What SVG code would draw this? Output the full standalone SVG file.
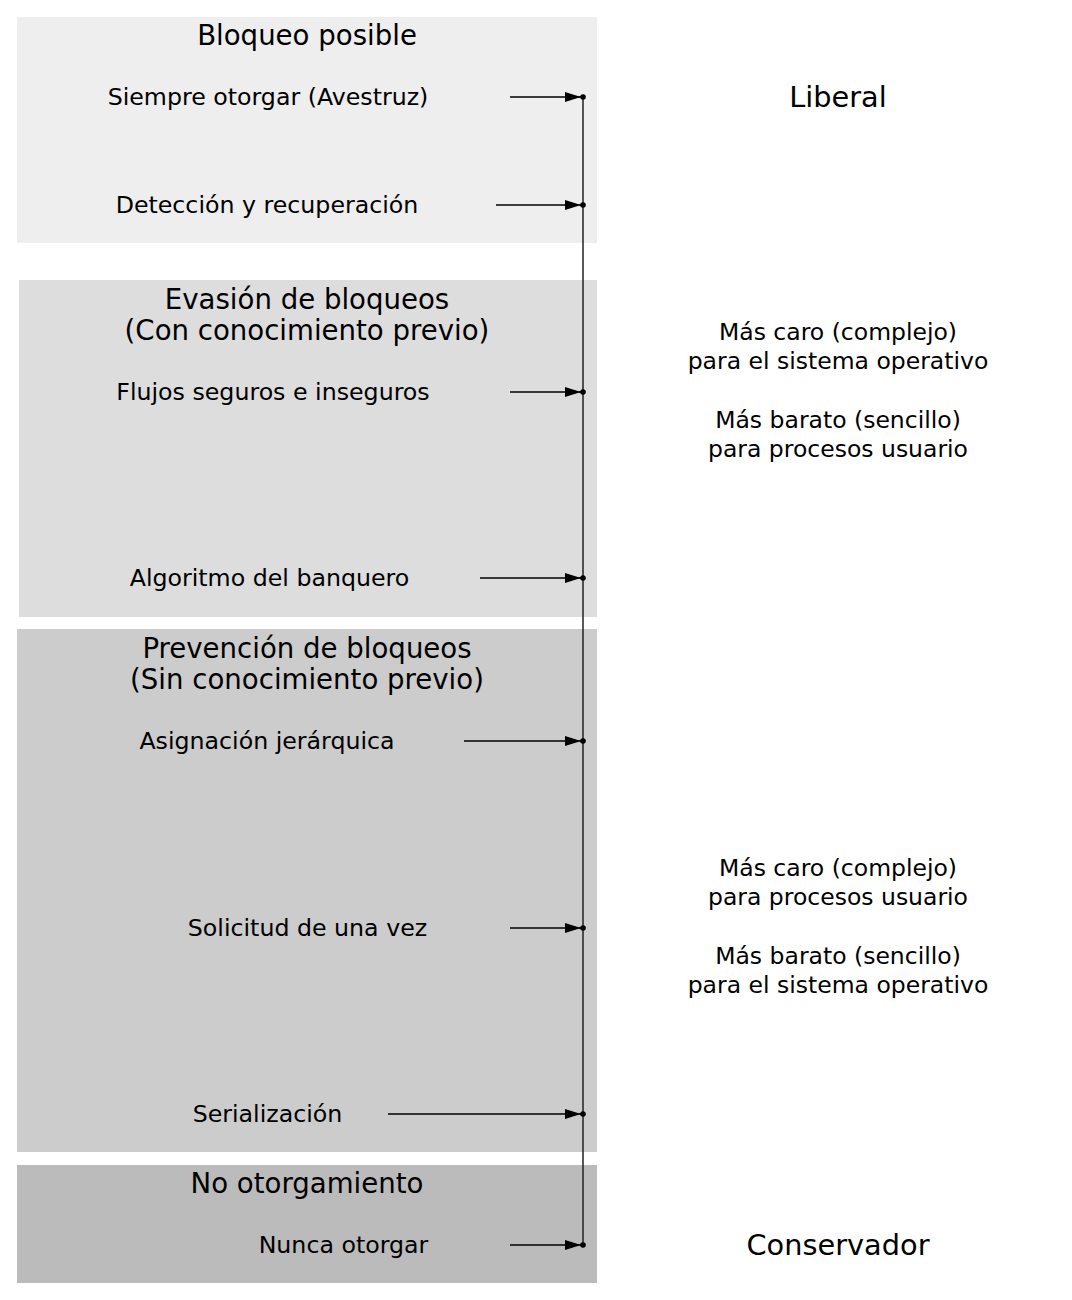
<svg xmlns="http://www.w3.org/2000/svg" width="1072" height="1300" viewBox="0 0 1072 1300">
<defs>
<style>
text{font-family:"DejaVu Sans","Liberation Sans",sans-serif;fill:#000}
.h{font-size:27.6px;text-anchor:middle}
.l{font-size:23.7px;text-anchor:middle}
.r{font-size:23.5px;text-anchor:middle}
.big{font-size:28.8px;text-anchor:middle}
.ar{stroke:#000;stroke-width:1.3;fill:none;marker-end:url(#ah)}
</style>
<marker id="ah" viewBox="0 0 16 10" refX="16" refY="5" markerWidth="16" markerHeight="10" markerUnits="userSpaceOnUse" orient="auto">
<path d="M0,0 L16,5 L0,10 Z" fill="#000"/>
</marker>
</defs>
<rect width="1072" height="1300" fill="#fff"/>
<g id="bloqueo-posible">
<rect x="17" y="17" width="580" height="226" fill="#eeeeee"/>
<text class="h" x="307" y="45">Bloqueo posible</text>
</g>
<g id="evasion">
<rect x="19" y="280" width="578" height="337" fill="#dddddd"/>
<text class="h" x="307" y="309">Evasión de bloqueos</text>
<text class="h" x="307" y="340">(Con conocimiento previo)</text>
</g>
<g id="prevencion">
<rect x="17" y="629" width="580" height="523" fill="#cccccc"/>
<text class="h" x="307" y="658">Prevención de bloqueos</text>
<text class="h" x="307" y="689">(Sin conocimiento previo)</text>
</g>
<g id="no-otorgamiento">
<rect x="17" y="1165" width="580" height="118" fill="#bbbbbb"/>
<text class="h" x="307" y="1193">No otorgamiento</text>
</g>
<g id="siempre"><text class="l" x="268" y="105">Siempre otorgar (Avestruz)</text></g>
<g id="deteccion"><text class="l" x="267" y="213">Detección y recuperación</text></g>
<g id="flujos"><text class="l" x="273" y="400">Flujos seguros e inseguros</text></g>
<g id="banquero"><text class="l" x="269.5" y="586">Algoritmo del banquero</text></g>
<g id="jerarquica"><text class="l" x="267" y="749">Asignación jerárquica</text></g>
<g id="solicitud"><text class="l" x="307.5" y="936">Solicitud de una vez</text></g>
<g id="serializacion"><text class="l" x="267.5" y="1122">Serialización</text></g>
<g id="nunca"><text class="l" x="343.5" y="1253">Nunca otorgar</text></g>
<g id="liberal"><text class="big" x="838" y="107">Liberal</text></g>
<g id="conservador"><text class="big" x="838" y="1255">Conservador</text></g>
<g id="nota-evasion">
<text class="r" x="838" y="340">Más caro (complejo)</text>
<text class="r" x="838" y="369">para el sistema operativo</text>
<text class="r" x="838" y="428">Más barato (sencillo)</text>
<text class="r" x="838" y="457">para procesos usuario</text>
</g>
<g id="nota-prevencion">
<text class="r" x="838" y="876">Más caro (complejo)</text>
<text class="r" x="838" y="905">para procesos usuario</text>
<text class="r" x="838" y="964">Más barato (sencillo)</text>
<text class="r" x="838" y="993">para el sistema operativo</text>
</g>
<g id="connectors">
<line x1="583" y1="97" x2="583" y2="1245" stroke="#222" stroke-width="1.5"/>
<line class="ar" x1="510" y1="97" x2="581" y2="97"/>
<line class="ar" x1="496" y1="205" x2="581" y2="205"/>
<line class="ar" x1="510" y1="392" x2="581" y2="392"/>
<line class="ar" x1="480" y1="578" x2="581" y2="578"/>
<line class="ar" x1="464" y1="741" x2="581" y2="741"/>
<line class="ar" x1="510" y1="928" x2="581" y2="928"/>
<line class="ar" x1="388" y1="1114" x2="581" y2="1114"/>
<line class="ar" x1="510" y1="1245" x2="581" y2="1245"/>
<g fill="#000">
<circle cx="583" cy="97" r="2.8"/><circle cx="583" cy="205" r="2.8"/><circle cx="583" cy="392" r="2.8"/><circle cx="583" cy="578" r="2.8"/>
<circle cx="583" cy="741" r="2.8"/><circle cx="583" cy="928" r="2.8"/><circle cx="583" cy="1114" r="2.8"/><circle cx="583" cy="1245" r="2.8"/>
</g>
</g>
</svg>
